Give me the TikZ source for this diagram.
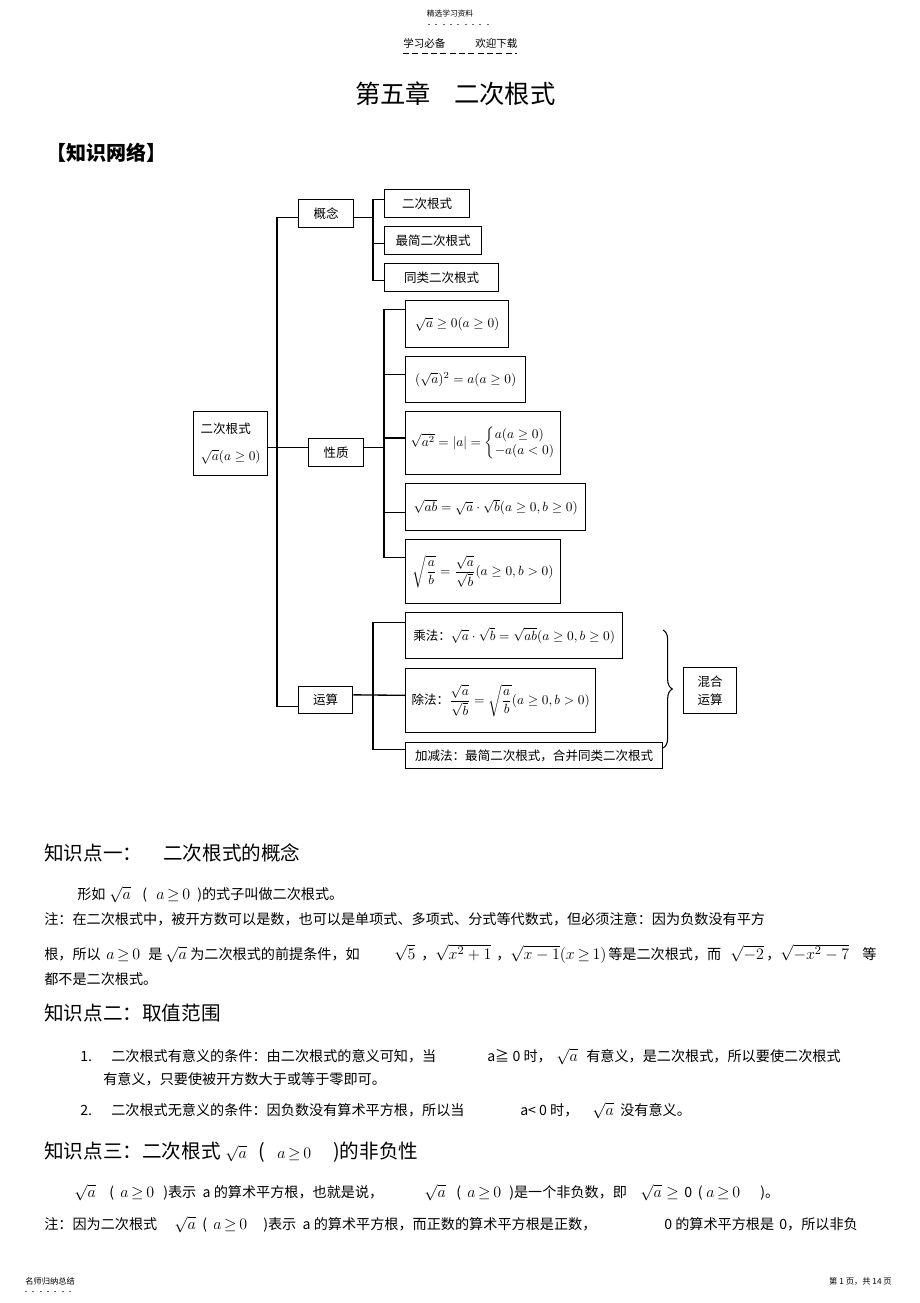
\documentclass[tikz,border=0pt]{standalone}
\usepackage{amsmath}
\usepackage{fontspec}
\setmainfont{Noto Sans CJK SC}
\usetikzlibrary{decorations.pathreplacing}

\tikzstyle{box} = [draw, line width=1pt, inner sep=0pt, anchor=north west, font=\fontsize{9.4}{13}\selectfont]
\tikzstyle{line} = [draw, line width=1pt]
\tikzstyle{txt} = [anchor=base west, inner sep=0pt, font=\fontsize{10.6}{12}\selectfont]
\tikzstyle{head} = [anchor=base west, inner sep=0pt, font=\fontsize{14.7}{16}\selectfont]
\tikzstyle{tiny} = [inner sep=0pt]
\newcommand{\mth}[1]{{\fontsize{12.5}{14}\selectfont$#1$}}
\newcommand{\dm}[1]{{\fontsize{10.2}{12}\selectfont$#1$}}

\begin{document}
\begin{tikzpicture}[x=0.75pt,y=-0.75pt]
    \path[fill=white] (0,0) rectangle (920,1303);
    \useasboundingbox (0,0) rectangle (920,1303);

    % page head
    \node[tiny, font=\fontsize{5.8}{7}\selectfont] (pgtop) at (450,14) {精选学习资料};
    \draw[black!60, dash pattern=on 1.5pt off 4pt] (428,24) -- (490,24);
    \node[tiny, anchor=west, font=\fontsize{7.9}{9}\selectfont] (pgleft) at (403,43) {学习必备};
    \node[tiny, anchor=west, font=\fontsize{7.9}{9}\selectfont] (pgright) at (475,43) {欢迎下载};
    \draw[dash pattern=on 4.5pt off 2.5pt] (403,53) -- (517,53);

    \node[head, font=\fontsize{19}{20}\selectfont] (title) at (355,103) {第五章\hspace{0.9em}二次根式};
    \node[head, font=\fontsize{15}{16}\selectfont\bfseries] (net) at (46,160) {【知识网络】};

    % knowledge net
    \node[box, minimum width=55.5pt, minimum height=48pt, align=left] (root) at (193,411) {二次根式\\[7pt]\dm{\sqrt{a}(a\geq 0)}};
    \node[box, minimum width=41.25pt, minimum height=21pt] (gn) at (298,199) {概念};
    \node[box, minimum width=63.75pt, minimum height=21pt] (c1) at (384,189) {二次根式};
    \node[box, minimum width=72.75pt, minimum height=21pt] (c2) at (384,226) {最简二次根式};
    \node[box, minimum width=85.5pt, minimum height=21pt] (c3) at (384,263) {同类二次根式};

    \node[box, minimum width=41.25pt, minimum height=21pt] (xz) at (308,438) {性质};
    \node[box, minimum width=77.25pt, minimum height=35.25pt] (p1) at (405,300) {\dm{\sqrt{a}\geq 0(a\geq 0)}};
    \node[box, minimum width=90pt, minimum height=34.5pt] (p2) at (405,356) {\dm{(\sqrt{a})^2=a(a\geq 0)}};
    \node[box, minimum width=116.25pt, minimum height=47.25pt] (p3) at (405,411) {{\fontsize{9.8}{12}\selectfont$\sqrt{a^2}=|a|=\left\{\begin{array}{@{}l@{}}a(a\geq 0)\\-a(a<0)\end{array}\right.$}};
    \node[box, minimum width=135pt, minimum height=35.25pt] (p4) at (405,483) {\dm{\sqrt{ab}=\sqrt{a}\cdot\sqrt{b}(a\geq 0,b\geq 0)}};
    \node[box, minimum width=116.25pt, minimum height=48pt] (p5) at (405,539) {\dm{\sqrt{\dfrac{a}{b}}=\dfrac{\sqrt{a}}{\sqrt{b}}(a\geq 0,b>0)}};

    \node[box, minimum width=40.5pt, minimum height=20.25pt] (ys) at (298,686) {运算};
    \node[box, minimum width=162.75pt, minimum height=34.5pt] (m1) at (405,612) {乘法：\dm{\sqrt{a}\cdot\sqrt{b}=\sqrt{ab}(a\geq 0,b\geq 0)}};
    \node[box, minimum width=142.5pt, minimum height=48pt] (m2) at (405,668) {除法：\dm{\dfrac{\sqrt{a}}{\sqrt{b}}=\sqrt{\dfrac{a}{b}}(a\geq 0,b>0)}};
    \node[box, minimum width=192.75pt, minimum height=19.5pt] (m3) at (405,742) {加减法：最简二次根式，合并同类二次根式};
    \node[box, minimum width=39.75pt, minimum height=34.5pt, align=left] (hh) at (683,667) {混合\\运算};

    \coordinate (trunk) at (277,447);
    \coordinate (gbus) at (373,240);
    \coordinate (pbus) at (384,447);
    \coordinate (mbus) at (373,690);

    \draw[line] ([yshift=-3pt]gn.west) -| (trunk) |- ([yshift=-4.5pt]ys.west);
    \draw[line] ([yshift=-3pt]root.east) -- ([yshift=3.75pt]xz.west);

    \draw[line] ([yshift=3pt]c1.west) -| (gbus) |- ([yshift=-2pt]c3.west);
    \draw[line] ([yshift=-3pt]gn.east) -- ++(20,0);
    \draw[line] ([yshift=-2pt]c2.west) -- ++(-11,0);

    \draw[line] ([yshift=11pt]p1.west) -| (pbus) |- ([yshift=10.5pt]p5.west);
    \draw[line] ([yshift=3.75pt]xz.east) -- ++(21,0);
    \draw[line] ([yshift=4pt]p2.west) -- ++(-21,0);
    \draw[line] ([yshift=4pt]p3.west) -- ++(-21,0);
    \draw[line] ([yshift=-4pt]p4.west) -- ++(-21,0);

    \draw[line] ([yshift=10pt]m1.west) -| (mbus) |- ([yshift=4.5pt]m3.west);
    \draw[line] ([yshift=4pt]ys.east) -- ([yshift=4pt]m2.west);
    \draw[line width=0.8pt, decorate, decoration={brace, amplitude=7pt}] (663,630) -- (663,748);

    % point one
    \node[head] (k1) at (44,860) {知识点一：};
    \node[head] (k1b) at (163,860) {二次根式的概念};
    \node[txt] (a1) at (77,899) {形如};
    \node[txt] (a2) at (109,899) {\mth{\sqrt{a}}};
    \node[txt] (a3) at (142,899) {(};
    \node[txt] (a4) at (156,899) {\mth{a\,{\geq}\,0}};
    \node[txt] (a5) at (197,899) {)的式子叫做二次根式。};
    \node[txt] (b1) at (44,924) {注：在二次根式中，被开方数可以是数，也可以是单项式、多项式、分式等代数式，但必须注意：因为负数没有平方};
    \node[txt] (c1t) at (44,959) {根，所以};
    \node[txt] (c2t) at (106,959) {\mth{a\,{\geq}\,0}};
    \node[txt] (c3t) at (148,959) {是};
    \node[txt] (c4t) at (165,959) {\mth{\sqrt{a}}};
    \node[txt] (c5t) at (190,959) {为二次根式的前提条件，如};
    \node[txt] (c6t) at (394,959) {\mth{\sqrt{5}}};
    \node[txt] (c7t) at (421,959) {，};
    \node[txt] (c7m) at (435,959) {\mth{\sqrt{x^2+1}}};
    \node[txt] (c8t) at (496,959) {，};
    \node[txt] (c8m) at (510,959) {\mth{\sqrt{x-1}(x\,{\geq}\,1)}};
    \node[txt] (c9t) at (608,959) {等是二次根式，而};
    \node[txt] (c10t) at (730,959) {\mth{\sqrt{-2}}};
    \node[txt] (c11t) at (766,959) {，};
    \node[txt] (c11m) at (780,959) {\mth{\sqrt{-x^2-7}}};
    \node[txt] (c12t) at (862,959) {等};
    \node[txt] (d1) at (44,984) {都不是二次根式。};

    % point two
    \node[head] (k2) at (44,1020) {知识点二：取值范围};
    \node[txt] (e1) at (80,1061) {1.};
    \node[txt] (e2) at (111,1061) {二次根式有意义的条件：由二次根式的意义可知，当};
    \node[txt] (e3) at (487,1061) {a≧ 0 时，};
    \node[txt] (e4) at (556,1061) {\mth{\sqrt{a}}};
    \node[txt] (e5) at (586,1061) {有意义，是二次根式，所以要使二次根式};
    \node[txt] (f1) at (103,1084) {有意义，只要使被开方数大于或等于零即可。};
    \node[txt] (g1) at (80,1115) {2.};
    \node[txt] (g2) at (111,1115) {二次根式无意义的条件：因负数没有算术平方根，所以当};
    \node[txt] (g3) at (520,1115) {a< 0 时，};
    \node[txt] (g4) at (592,1115) {\mth{\sqrt{a}}};
    \node[txt] (g5) at (620,1115) {没有意义。};

    % point three
    \node[head] (k3) at (44,1158) {知识点三：二次根式};
    \node[txt] (k3b) at (225,1158) {\mth{\sqrt{a}}};
    \node[head] (k3c) at (258,1158) {(};
    \node[txt] (k3d) at (277,1158) {\mth{a\,{\geq}\,0}};
    \node[head] (k3e) at (333,1158) {)的非负性};
    \node[txt] (h1) at (74,1197) {\mth{\sqrt{a}}};
    \node[txt] (h2) at (109,1197) {(};
    \node[txt] (h3) at (120,1197) {\mth{a\,{\geq}\,0}};
    \node[txt] (h4) at (163,1197) {)表示\ \ a 的算术平方根，也就是说，};
    \node[txt] (h5) at (424,1197) {\mth{\sqrt{a}}};
    \node[txt] (h6) at (456,1197) {(};
    \node[txt] (h7) at (467,1197) {\mth{a\,{\geq}\,0}};
    \node[txt] (h8) at (509,1197) {)是一个非负数，即};
    \node[txt] (h9) at (640,1197) {\mth{\sqrt{a}\geq}};
    \node[txt] (h10) at (684,1197) {0\hspace{0.4em}(};
    \node[txt] (h11) at (706,1197) {\mth{a\,{\geq}\,0}};
    \node[txt] (h12) at (760,1197) {)。};
    \node[txt] (i1) at (44,1229) {注：因为二次根式};
    \node[txt] (i2) at (174,1229) {\mth{\sqrt{a}}};
    \node[txt] (i3) at (202,1229) {(};
    \node[txt] (i4) at (213,1229) {\mth{a\,{\geq}\,0}};
    \node[txt] (i5) at (263,1229) {)表示\ \ a 的算术平方根，而正数的算术平方根是正数，};
    \node[txt] (i6) at (664,1229) {0 的算术平方根是};
    \node[txt] (i7) at (779,1229) {0，所以非负};

    % page foot
    \node[tiny, anchor=west, font=\fontsize{6.2}{7}\selectfont] (ftl) at (25,1281) {名师归纳总结};
    \draw[black!60, dash pattern=on 1.5pt off 4pt] (25,1291) -- (73,1291);
    \node[tiny, anchor=east, font=\fontsize{6.2}{7}\selectfont] (ftr) at (892,1281) {第 1 页，共 14 页};
\end{tikzpicture}
\end{document}
